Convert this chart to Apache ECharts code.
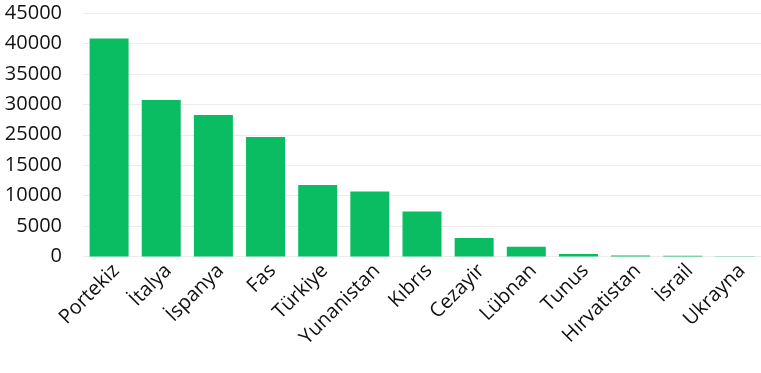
<!DOCTYPE html>
<html>
<head>
<meta charset="utf-8">
<script src="https://cdn.jsdelivr.net/npm/echarts@6/dist/echarts.min.js"></script>
<style>html,body{margin:0;padding:0;background:#fff}#c{width:761px;height:373px}</style>
</head>
<body>
<div id="c"></div>
<script>
var categories = ["Portekiz", "İtalya", "İspanya", "Fas", "Türkiye", "Yunanistan", "Kıbrıs", "Cezayir", "Lübnan", "Tunus", "Hırvatistan", "İsrail", "Ukrayna"];
var values = [40300, 28900, 26150, 22100, 13200, 12000, 8300, 3400, 1800, 460, 200, 150, 30];
var tickLabels = ["0", "5000", "10000", "15000", "25000", "30000", "35000", "40000", "45000"];

var yMax = 45000;
var yStep = yMax / (tickLabels.length - 1);

var chart = echarts.init(document.getElementById('c'));
chart.setOption({
  animation: false,
  grid: { left: 83, top: 13, width: 685, height: 243.5, containLabel: false },
  xAxis: {
    type: 'category',
    data: categories,
    axisLine: { show: false },
    axisTick: { show: false },
    axisLabel: {
      interval: 0,
      rotate: 45,
      margin: 4,
      verticalAlign: 'top',
      color: '#111',
      fontSize: 20,
      fontFamily: 'Open Sans'
    }
  },
  yAxis: {
    type: 'value',
    min: 0,
    max: yMax,
    interval: yStep,
    axisLine: { show: false },
    axisTick: { show: false },
    splitLine: { lineStyle: { color: '#ececec', width: 1 } },
    axisLabel: {
      margin: 21,
      color: '#111',
      fontSize: 20,
      fontFamily: 'Open Sans',
      formatter: function (v) {
        var i = Math.round(v / yStep);
        return tickLabels[i] !== undefined ? tickLabels[i] : '';
      }
    }
  },
  series: [{
    type: 'bar',
    data: values,
    barWidth: 39,
    itemStyle: { color: '#0abd63' }
  }]
});
</script>
</body>
</html>
